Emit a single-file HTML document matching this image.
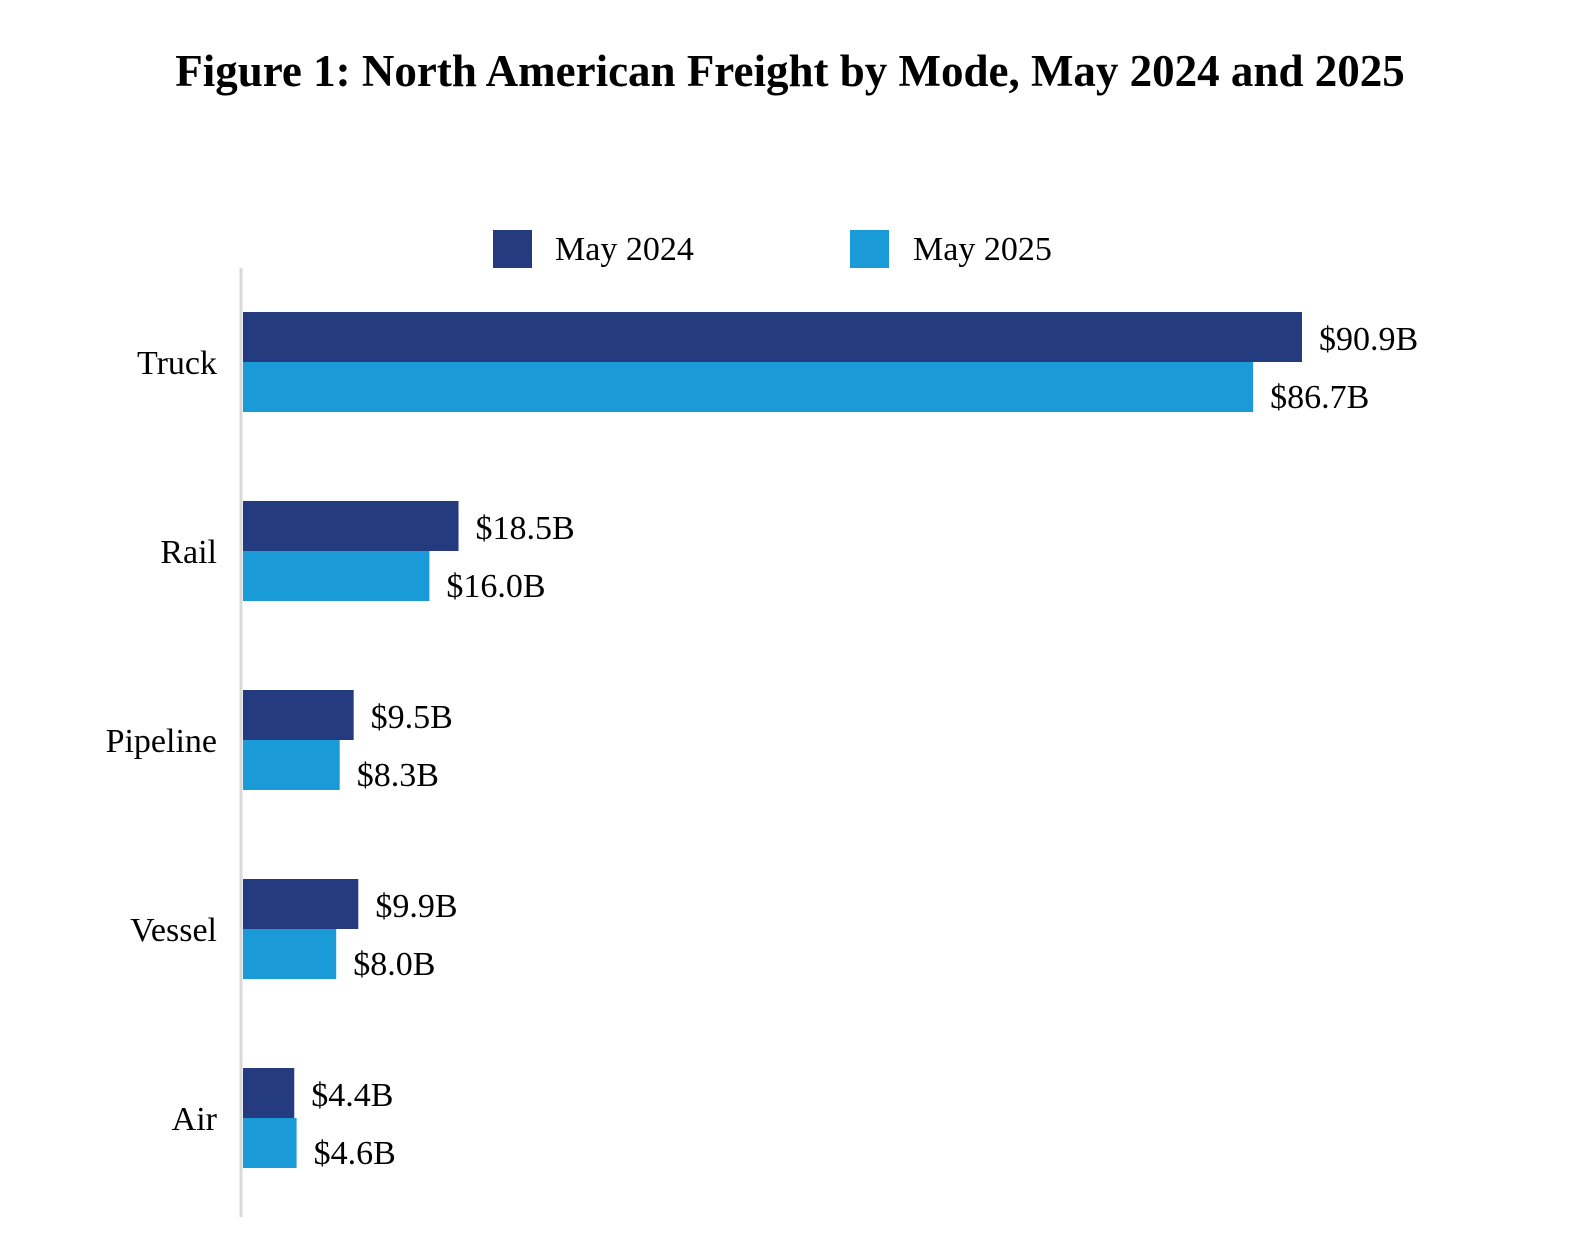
<!DOCTYPE html>
<html><head><meta charset="utf-8"><style>
body{margin:0;background:#fff;width:1591px;height:1246px;overflow:hidden;font-family:"Liberation Serif",serif;}
</style></head><body>
<svg width="1591" height="1246" xmlns="http://www.w3.org/2000/svg" font-family="Liberation Serif, serif">
<text x="790" y="86" text-anchor="middle" font-size="45" font-weight="bold">Figure 1: North American Freight by Mode, May 2024 and 2025</text>
<g>
<rect x="493" y="230" width="39" height="38" fill="#253b80"/>
<text x="555" y="260" font-size="34">May 2024</text>
<rect x="850" y="230" width="39" height="38" fill="#1a9bd7"/>
<text x="913" y="260" font-size="34">May 2025</text>
</g>
<line x1="241" y1="268" x2="241" y2="1217" stroke="#d9d9d9" stroke-width="3"/>
<g id="bars"></g>
</svg>
<script>
const categories = ["Truck","Rail","Pipeline","Vessel","Air"];
const values2024 = [90.9,18.5,9.5,9.9,4.4];
const values2025 = [86.7,16.0,8.3,8.0,4.6];
const x0 = 243, scale = (1302-243)/90.9;
const xPos = v => x0 + v*scale;
const groupTop = i => 312 + i*189;
const ns = "http://www.w3.org/2000/svg";
const g = document.getElementById("bars");
function mk(tag, attrs){const e=document.createElementNS(ns,tag);for(const k in attrs)e.setAttribute(k,attrs[k]);g.appendChild(e);return e;}
categories.forEach((c,i)=>{
  const t = groupTop(i);
  const lab = mk("text",{x:217,y:t+62,"text-anchor":"end","font-size":34});
  lab.textContent = c;
  
  
  [[values2024,"#253b80",0,38,"2024"],[values2025,"#1a9bd7",50,96,"2025"]].forEach(([arr,col,dy,ly,yr])=>{
    const v = arr[i];
    const r = mk("rect",{x:x0,y:t+dy,width:xPos(v)-x0,height:50,fill:col});
    
    
    const tx = mk("text",{x:xPos(v)+17,y:t+ly,"font-size":34});
    tx.textContent = "$"+v.toFixed(1)+"B";
    
    
  });
});
</script>
</body></html>
